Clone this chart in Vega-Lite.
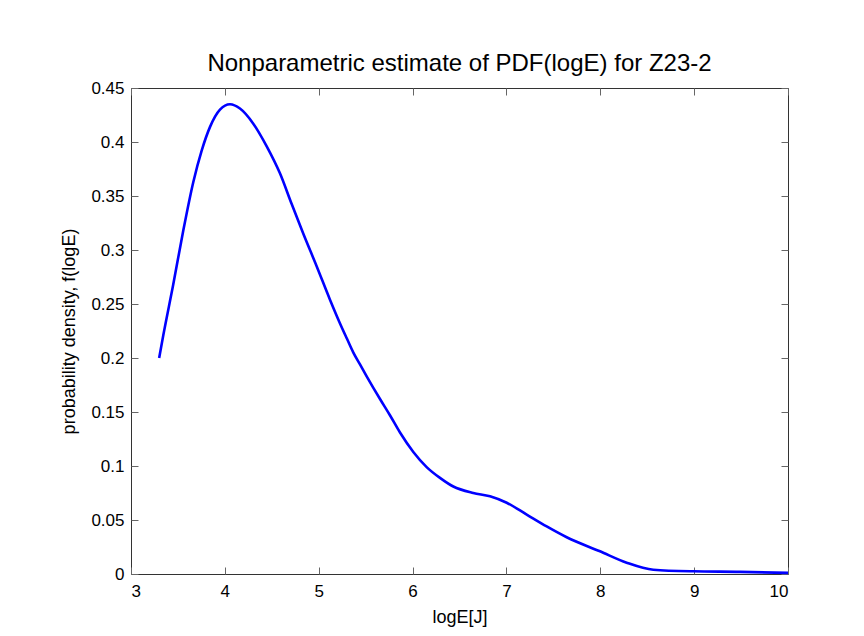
{
  "$schema": "https://vega.github.io/schema/vega-lite/v6.json",
  "autosize": {"type": "none"},
  "width": 657,
  "height": 486,
  "padding": {"left": 131, "top": 88, "right": 76, "bottom": 62},
  "background": "white",
  "title": {
    "text": "Nonparametric estimate of PDF(logE) for Z23-2",
    "font": "Liberation Sans",
    "fontSize": 24,
    "fontWeight": "normal",
    "color": "#000000",
    "offset": 3
  },
  "config": {
    "view": {"stroke": "#333333", "strokeWidth": 1},
    "axis": {
      "labelFont": "Liberation Sans",
      "titleFont": "Liberation Sans",
      "labelFontSize": 17,
      "titleFontSize": 18,
      "titleFontWeight": "normal",
      "labelColor": "#000000",
      "titleColor": "#000000",
      "tickColor": "#666666",
      "domain": false,
      "grid": false,
      "tickSize": -7
    }
  },
  "data": {
    "values": [
      {"logE": 3.30, "f": 0.200},
      {"logE": 3.344, "f": 0.221},
      {"logE": 3.45, "f": 0.268},
      {"logE": 3.557, "f": 0.318},
      {"logE": 3.664, "f": 0.363},
      {"logE": 3.753, "f": 0.392},
      {"logE": 3.842, "f": 0.414},
      {"logE": 3.948, "f": 0.430},
      {"logE": 4.055, "f": 0.435},
      {"logE": 4.161, "f": 0.431},
      {"logE": 4.303, "f": 0.417},
      {"logE": 4.446, "f": 0.396},
      {"logE": 4.587, "f": 0.371},
      {"logE": 4.71, "f": 0.343},
      {"logE": 4.836, "f": 0.315},
      {"logE": 4.978, "f": 0.285},
      {"logE": 5.12, "f": 0.254},
      {"logE": 5.227, "f": 0.232},
      {"logE": 5.30, "f": 0.218},
      {"logE": 5.369, "f": 0.205},
      {"logE": 5.44, "f": 0.194},
      {"logE": 5.511, "f": 0.183},
      {"logE": 5.653, "f": 0.162},
      {"logE": 5.759, "f": 0.147},
      {"logE": 5.866, "f": 0.131},
      {"logE": 6.008, "f": 0.113},
      {"logE": 6.15, "f": 0.099},
      {"logE": 6.292, "f": 0.089},
      {"logE": 6.434, "f": 0.081},
      {"logE": 6.647, "f": 0.075},
      {"logE": 6.825, "f": 0.072},
      {"logE": 7.003, "f": 0.066},
      {"logE": 7.216, "f": 0.055},
      {"logE": 7.429, "f": 0.044},
      {"logE": 7.642, "f": 0.034},
      {"logE": 7.997, "f": 0.021},
      {"logE": 8.281, "f": 0.0105},
      {"logE": 8.565, "f": 0.004},
      {"logE": 8.99, "f": 0.0025},
      {"logE": 9.49, "f": 0.002},
      {"logE": 10.0, "f": 0.001}
    ]
  },
  "layer": [
    {
      "mark": {"type": "line", "color": "#0000ff", "strokeWidth": 2.6, "interpolate": "monotone"},
      "encoding": {
        "x": {
          "field": "logE", "type": "quantitative",
          "scale": {"domain": [3, 10], "nice": false, "zero": false},
          "axis": {"title": "logE[J]", "values": [3,4,5,6,7,8,9,10], "labelPadding": 16, "titlePadding": 9}
        },
        "y": {
          "field": "f", "type": "quantitative",
          "scale": {"domain": [0, 0.45], "nice": false},
          "axis": {"title": "probability density, f(logE)", "values": [0,0.05,0.1,0.15,0.2,0.25,0.3,0.35,0.4,0.45], "format": "~g", "labelPadding": 14, "titlePadding": 12}
        }
      }
    },
    {
      "mark": {"type": "line", "opacity": 0},
      "encoding": {
        "x": {
          "field": "logE", "type": "quantitative",
          "axis": {"orient": "top", "title": null, "labels": false, "values": [3,4,5,6,7,8,9,10]}
        },
        "y": {
          "field": "f", "type": "quantitative",
          "axis": {"orient": "right", "title": null, "labels": false, "values": [0,0.05,0.1,0.15,0.2,0.25,0.3,0.35,0.4,0.45]}
        }
      }
    }
  ],
  "resolve": {"axis": {"x": "independent", "y": "independent"}}
}
